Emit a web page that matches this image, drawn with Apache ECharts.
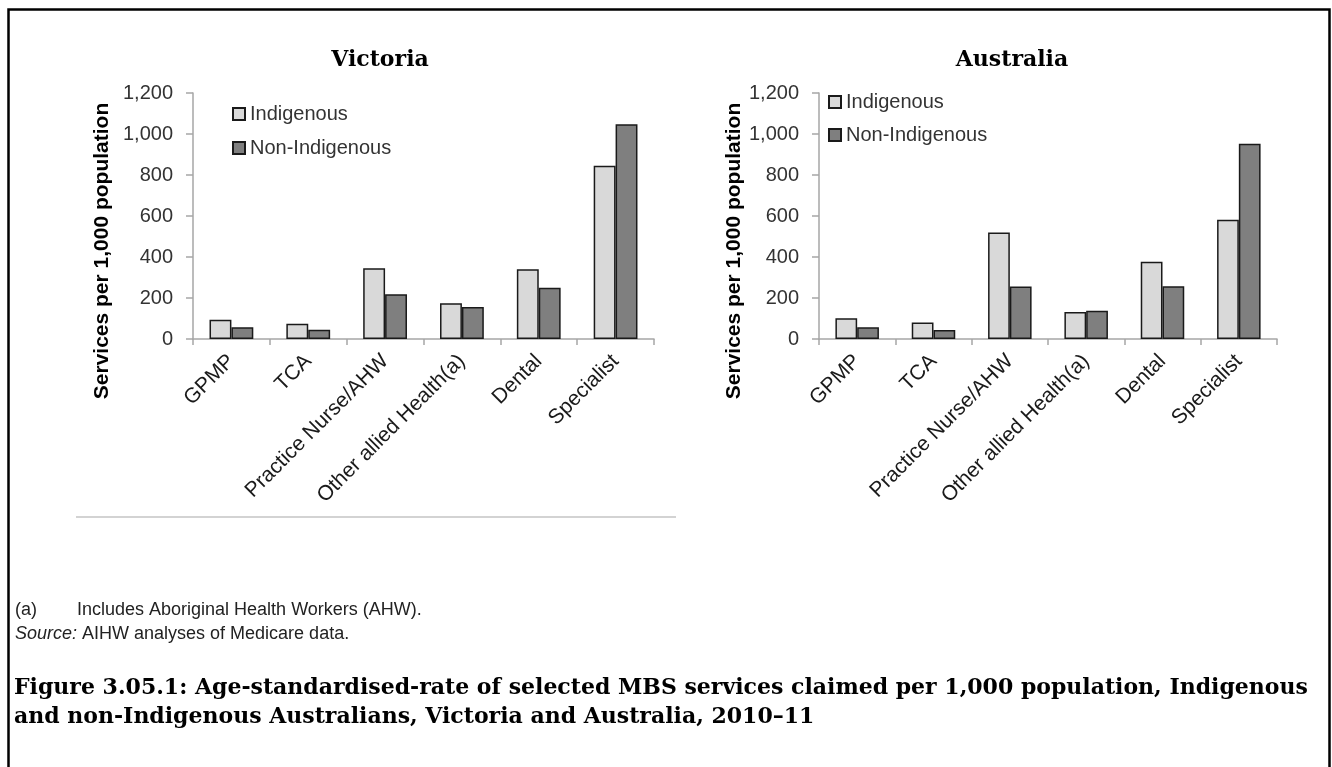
<!DOCTYPE html>
<html>
<head>
<meta charset="utf-8">
<script src="https://cdn.jsdelivr.net/npm/echarts@6/dist/echarts.min.js"></script>
<style>
html, body { margin: 0; padding: 0; background: #fff; }
#chart { width: 1332px; height: 767px; }
</style>
</head>
<body>
<div id="chart"></div>
<script>
// categories and values
var categories = ['GPMP', 'TCA', 'Practice Nurse/AHW', 'Other allied Health(a)', 'Dental', 'Specialist'];
var seriesNames = ['Indigenous', 'Non-Indigenous'];
var vicIndigenous = [94, 75, 345, 175, 340, 845];
var vicNonIndigenous = [57, 45, 218, 156, 250, 1047];
var ausIndigenous = [101, 80, 520, 132, 377, 582];
var ausNonIndigenous = [57, 44, 256, 138, 257, 953];
var yMin = 0, yMax = 1200, yStep = 200;

var panelTitles = ['Victoria', 'Australia'];
var yName = 'Services per 1,000 population';
var footnote = 'Includes Aboriginal Health Workers (AHW).';
var sourceText = 'AIHW analyses of Medicare data.';
var captionLines = [
	'Figure 3.05.1: Age-standardised-rate of selected MBS services claimed per 1,000 population, Indigenous',
	'and non-Indigenous Australians, Victoria and Australia, 2010\u201311'
];

var sans = 'Liberation Sans, Arial, sans-serif';
var serif = 'DejaVu Serif, serif';
var colors = ['#d9d9d9', '#7f7f7f'];
var axisGray = '#a6a6a6';

function fmt(v) {
	return String(v).replace(/\B(?=(\d{3})+(?!\d))/g, ',');
}

function xAxisFor(i) {
	return {
		type: 'category',
		gridIndex: i,
		data: categories,
		axisLine: { lineStyle: { color: axisGray, width: 1.5 } },
		axisTick: { show: true, length: 6, lineStyle: { color: axisGray, width: 1.5 } },
		axisLabel: { interval: 0, rotate: 45, margin: 19, fontFamily: sans, fontSize: 21, color: '#1a1a1a' }
	};
}

function yAxisFor(i, gap) {
	return {
		type: 'value',
		gridIndex: i,
		min: yMin,
		max: yMax,
		interval: yStep,
		name: yName,
		nameLocation: 'middle',
		nameRotate: 90,
		nameGap: gap,
		nameTextStyle: { fontFamily: sans, fontSize: 21, fontWeight: 'bold', color: '#000', padding: [0, 70, 0, 0] },
		axisLine: { show: true, lineStyle: { color: axisGray, width: 1.5 } },
		axisTick: { show: true, length: 7, lineStyle: { color: axisGray, width: 1.5 } },
		splitLine: { show: false },
		axisLabel: { margin: 20, fontFamily: sans, fontSize: 20, color: '#333', formatter: fmt }
	};
}

function barSeries(name, data, idx, colorIdx) {
	return {
		name: name,
		type: 'bar',
		xAxisIndex: idx,
		yAxisIndex: idx,
		data: data,
		barGap: 0,
		barCategoryGap: '43%',
		itemStyle: { color: colors[colorIdx], borderColor: '#1a1a1a', borderWidth: 1.5 }
	};
}

function legendAt(left, top, gap) {
	return {
		data: seriesNames, orient: 'vertical', left: left, top: top, padding: 0,
		icon: 'rect', itemWidth: 12, itemHeight: 12, itemGap: gap,
		textStyle: { fontFamily: sans, fontSize: 20, color: '#333' }
	};
}

var chartObj = echarts.init(document.getElementById('chart'));

var option = {
	animation: false,
	title: [
		{ text: panelTitles[0], left: 375, top: 44, textAlign: 'center',
			textStyle: { fontFamily: serif, fontSize: 22, fontWeight: 'bold', color: '#000' } },
		{ text: panelTitles[1], left: 1007, top: 44, textAlign: 'center',
			textStyle: { fontFamily: serif, fontSize: 22, fontWeight: 'bold', color: '#000' } }
	],
	legend: [legendAt(232, 104, 14), legendAt(828, 92, 13)],
	grid: [
		{ left: 193, top: 93, width: 461, height: 246 },
		{ left: 819, top: 93, width: 458, height: 246 }
	],
	xAxis: [xAxisFor(0), xAxisFor(1)],
	yAxis: [yAxisFor(0, 80), yAxisFor(1, 72)],
	series: [
		barSeries(seriesNames[0], vicIndigenous, 0, 0),
		barSeries(seriesNames[1], vicNonIndigenous, 0, 1),
		barSeries(seriesNames[0], ausIndigenous, 1, 0),
		barSeries(seriesNames[1], ausNonIndigenous, 1, 1)
	],
	graphic: [
		{ type: 'rect', shape: { x: 8.5, y: 9.5, width: 1321, height: 800 },
			style: { fill: 'none', stroke: '#000', lineWidth: 2.5 }, silent: true },
		{ type: 'line', shape: { x1: 76, y1: 517, x2: 676, y2: 517 },
			style: { stroke: '#c4c4c4', lineWidth: 1.5 }, silent: true },
		{ type: 'text', left: 15, top: 601,
			style: { text: '(a)', font: '18px ' + sans, fill: '#222' } },
		{ type: 'text', left: 77, top: 601,
			style: { text: footnote, font: '18px ' + sans, fill: '#222' } },
		{ type: 'text', left: 15, top: 625,
			style: { text: '{i|Source:} ' + sourceText, font: '18px ' + sans, fill: '#222',
				rich: { i: { fontStyle: 'italic', fontFamily: sans, fontSize: 18, fill: '#222' } } } },
		{ type: 'text', left: 14, top: 674,
			style: { text: captionLines.join('\n'), font: 'bold 22px ' + serif, fill: '#000', lineHeight: 29 } }
	]
};

chartObj.setOption(option);
</script>
</body>
</html>
